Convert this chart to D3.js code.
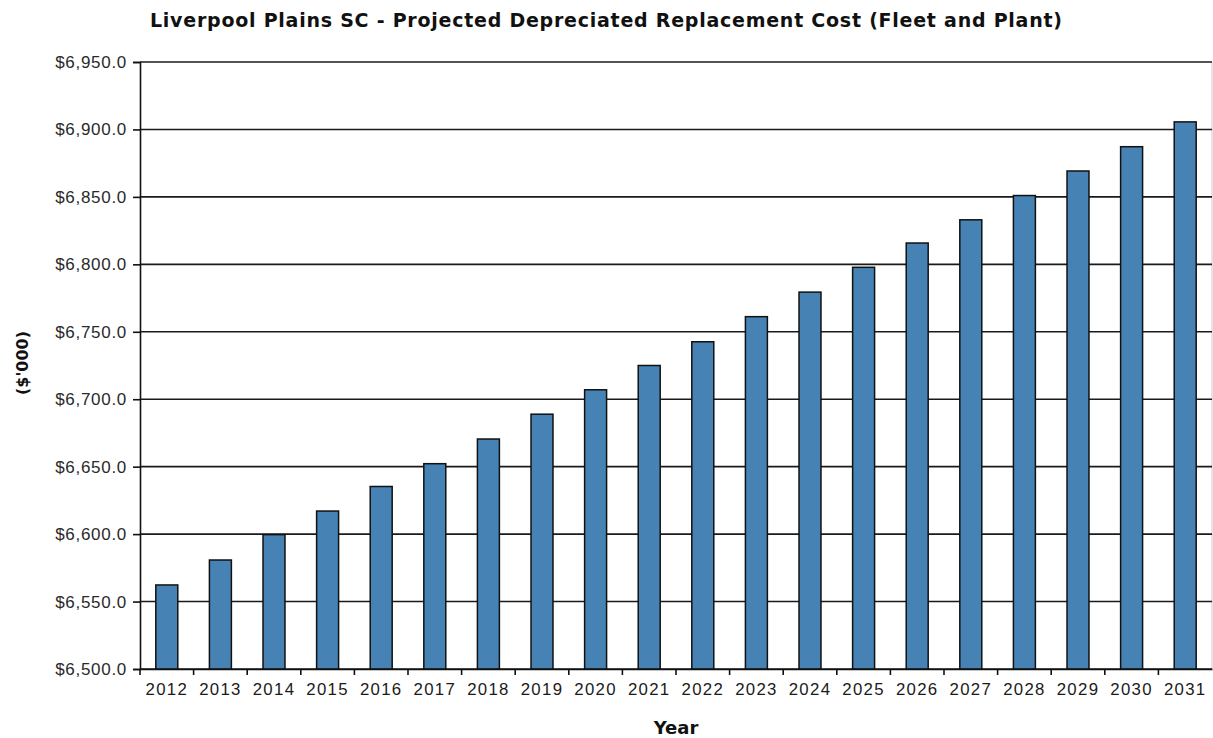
<!DOCTYPE html>
<html>
<head>
<meta charset="utf-8">
<script src="https://cdn.jsdelivr.net/npm/d3@7"></script>
<style>
  body { margin: 0; background: #fff; }
  svg { display: block; }
</style>
</head>
<body>
<div id="chart"></div>
<script>
// data
const years = ["2012","2013","2014","2015","2016","2017","2018","2019","2020","2021",
               "2022","2023","2024","2025","2026","2027","2028","2029","2030","2031"];
const drc = [6562.3, 6580.8, 6599.6, 6617.1, 6635.3, 6652.2, 6670.5, 6688.9, 6707.0, 6725.0,
             6742.6, 6761.2, 6779.4, 6797.8, 6815.8, 6833.0, 6851.0, 6869.2, 6887.2, 6905.6];
const yTicks = [6500, 6550, 6600, 6650, 6700, 6750, 6800, 6850, 6900, 6950];

const W = 1213, H = 738;
const margin = {top: 62, right: 1, bottom: 69, left: 140};
const width = W - margin.left - margin.right,
      height = H - margin.top - margin.bottom;

const svg = d3.select("#chart").append("svg").attr("width", W).attr("height", H);
const g = svg.append("g").attr("transform", `translate(${margin.left},${margin.top})`);

// scales
const x = d3.scaleBand().domain(years).range([0, width]).padding(0);
const y = d3.scaleLinear().domain([6500, 6950]).range([height, 0]);
const barW = x.bandwidth() * 0.41;

// right border
g.append("line").attr("x1", width).attr("x2", width).attr("y1", 0).attr("y2", height)
 .attr("stroke", "#c8c8c8").attr("stroke-width", 1);

// gridlines
g.append("g").selectAll("line").data(yTicks).join("line")
 .attr("x1", 0).attr("x2", width)
 .attr("y1", d => y(d)).attr("y2", d => y(d))
 .attr("stroke", "#1a1a1a").attr("stroke-width", 1.6);

// bars
g.append("g").selectAll("rect").data(years).join("rect")
 .attr("x", d => x(d) + x.bandwidth() / 2 - barW / 2)
 .attr("y", (d, i) => y(drc[i]))
 .attr("width", barW)
 .attr("height", (d, i) => height - y(drc[i]))
 .attr("fill", "#4682b4").attr("stroke", "#111").attr("stroke-width", 1.5);

// y axis
const yAxis = g.append("g")
  .call(d3.axisLeft(y).tickValues(yTicks).tickSize(7).tickPadding(6)
    .tickFormat(d => "$" + d3.format(",.1f")(d)));
yAxis.select(".domain").attr("stroke", "#111").attr("stroke-width", 1.6);
yAxis.selectAll(".tick line").attr("stroke", "#111").attr("stroke-width", 1.6);
yAxis.selectAll("text").attr("font-family", "Liberation Sans, Arial, sans-serif")
  .attr("font-size", 17).attr("letter-spacing", 0.7).attr("fill", "#2a2a2a");

// x axis (labels at centres, ticks at band edges)
const xAxis = g.append("g").attr("transform", `translate(0,${height})`)
  .call(d3.axisBottom(x).tickSize(0).tickPadding(14));
xAxis.select(".domain").attr("stroke", "#111").attr("stroke-width", 1.6);
xAxis.selectAll("text").attr("font-family", "Liberation Sans, Arial, sans-serif")
  .attr("font-size", 16.8).attr("letter-spacing", 1.3).attr("fill", "#1a1a1a");
xAxis.append("g").selectAll("line").data(years).join("line")
  .attr("x1", d => x(d)).attr("x2", d => x(d)).attr("y1", 0).attr("y2", 6)
  .attr("stroke", "#111").attr("stroke-width", 1.6);

// title
svg.append("text").attr("x", 606).attr("y", 27).attr("text-anchor", "middle")
   .attr("font-family", "DejaVu Sans, Verdana, sans-serif").attr("font-weight", "bold")
   .attr("font-size", 19).attr("fill", "#111")
   .attr("textLength", 912).attr("lengthAdjust", "spacing")
   .text("Liverpool Plains SC - Projected Depreciated Replacement Cost (Fleet and Plant)");

// axis titles
svg.append("text").attr("transform", "translate(28,363) rotate(-90)").attr("text-anchor", "middle")
   .attr("font-family", "DejaVu Sans, Verdana, sans-serif").attr("font-weight", "bold")
   .attr("font-size", 16).attr("fill", "#111").text("($'000)");
svg.append("text").attr("x", 676).attr("y", 734).attr("text-anchor", "middle")
   .attr("font-family", "DejaVu Sans, Verdana, sans-serif").attr("font-weight", "bold")
   .attr("font-size", 18).attr("fill", "#111").text("Year");
</script>
</body>
</html>
